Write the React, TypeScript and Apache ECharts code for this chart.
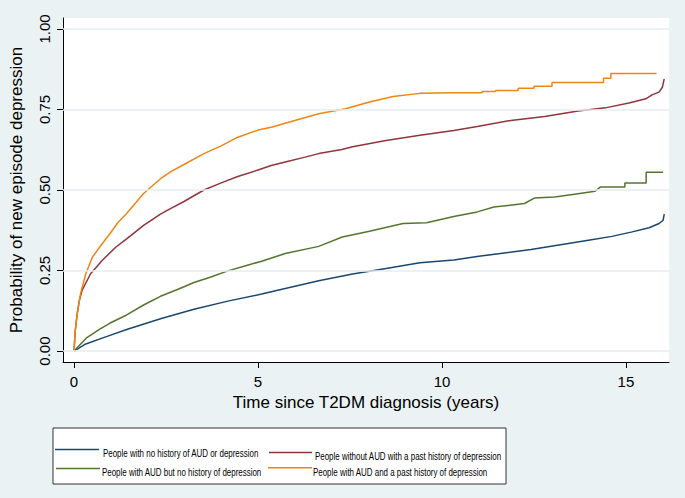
import React, { useEffect, useRef } from "react";
import * as echarts from "echarts";

const NAME_BLUE = "People with no history of AUD or depression";
const NAME_MAROON = "People without AUD with a past history of depression";
const NAME_GREEN = "People with AUD but no history of depression";
const NAME_ORANGE = "People with AUD and a past history of depression";

const COLOR_BLUE = "#1a476f";
const COLOR_MAROON = "#90353b";
const COLOR_GREEN = "#55752f";
const COLOR_ORANGE = "#ec8614";

const blueT = [0, 0.32, 0.86, 1.43, 2.35, 3.26, 4.18, 5.1, 5.74, 6.65, 7.57, 8.48, 9.4, 10.32, 11.0, 12.42, 13.98, 14.62, 15.17, 15.63, 15.9, 16.01, 16.04];
const blueP = [0, 0.022, 0.044, 0.067, 0.1, 0.13, 0.155, 0.177, 0.194, 0.218, 0.239, 0.256, 0.274, 0.283, 0.294, 0.315, 0.344, 0.356, 0.37, 0.383, 0.396, 0.406, 0.425];

const maroonT = [0, 0.03, 0.08, 0.14, 0.22, 0.45, 0.77, 1.14, 1.43, 1.89, 2.35, 2.62, 3.0, 3.53, 4.0, 4.45, 5.0, 5.36, 5.74, 6.28, 6.65, 7.28, 7.57, 8.48, 9.4, 10.32, 10.96, 11.87, 12.79, 13.7, 14.44, 15.08, 15.54, 15.72, 15.9, 15.99, 16.04];
const maroonP = [0, 0.06, 0.11, 0.155, 0.189, 0.24, 0.282, 0.323, 0.348, 0.39, 0.425, 0.442, 0.465, 0.5, 0.522, 0.542, 0.562, 0.576, 0.587, 0.602, 0.613, 0.626, 0.634, 0.654, 0.67, 0.685, 0.697, 0.716, 0.728, 0.745, 0.755, 0.77, 0.783, 0.796, 0.804, 0.819, 0.845];

const greenT = [0, 0.33, 0.7, 0.98, 1.43, 1.89, 2.35, 2.81, 3.26, 3.72, 4.18, 4.64, 5.1, 5.74, 6.65, 7.29, 8.03, 8.94, 9.58, 10.32, 10.96, 11.41, 12.24, 12.51, 13.06, 13.6, 14.16, 14.3, 14.97, 14.97, 15.55, 15.55, 16.01];
const greenP = [0, 0.04, 0.068, 0.087, 0.112, 0.143, 0.17, 0.191, 0.213, 0.23, 0.249, 0.264, 0.279, 0.303, 0.325, 0.354, 0.372, 0.396, 0.398, 0.418, 0.432, 0.447, 0.458, 0.475, 0.478, 0.487, 0.496, 0.509, 0.509, 0.522, 0.522, 0.555, 0.555];

const orangeT = [0, 0.03, 0.09, 0.18, 0.32, 0.5, 0.77, 0.98, 1.2, 1.43, 1.89, 2.35, 2.62, 3.0, 3.53, 4.0, 4.45, 5.0, 5.36, 6.0, 6.65, 7.38, 8.03, 8.67, 9.4, 10.3, 11.09, 11.09, 11.46, 11.46, 12.07, 12.07, 12.5, 12.5, 12.99, 12.99, 14.39, 14.39, 14.59, 14.59, 15.83];
const orangeP = [0, 0.06, 0.12, 0.18, 0.24, 0.292, 0.334, 0.365, 0.4, 0.427, 0.489, 0.535, 0.556, 0.58, 0.613, 0.637, 0.664, 0.686, 0.695, 0.716, 0.737, 0.752, 0.773, 0.79, 0.8, 0.802, 0.802, 0.806, 0.806, 0.809, 0.809, 0.816, 0.816, 0.822, 0.822, 0.834, 0.834, 0.847, 0.847, 0.862, 0.862];

const xTicks = [0, 5, 10, 15];
const yTicks = [0, 0.25, 0.5, 0.75, 1];

const FONT = "'Liberation Sans', Arial, sans-serif";

const zip = (t: number[], p: number[]) => t.map((v, i) => [v, p[i]]);

// legend layout: [name, color, lineX1, lineX2, lineY, textX, textY]
const legendItems: [string, string, number, number, number, number, number][] = [
  [NAME_BLUE, COLOR_BLUE, 55, 99, 449.5, 103, 453.5],
  [NAME_MAROON, COLOR_MAROON, 269, 312, 452.5, 315, 456.5],
  [NAME_GREEN, COLOR_GREEN, 56, 100, 468.5, 102, 472.5],
  [NAME_ORANGE, COLOR_ORANGE, 268, 312, 467.8, 313, 472.2],
];

export default function App() {
  const ref = useRef<HTMLDivElement>(null);
  useEffect(() => {
    if (!ref.current) return;
    const chart = echarts.init(ref.current, null, { renderer: "svg" });
    const lineSeries = (name: string, color: string, t: number[], p: number[]) => ({
      name,
      type: "line",
      data: zip(t, p),
      showSymbol: false,
      symbol: "none",
      color,
      lineStyle: { color, width: 1.5 },
      itemStyle: { color },
      z: 3,
    });
    const legendGraphics: any[] = [
      {
        type: "rect",
        x: 53,
        y: 428,
        z: 1,
        shape: { x: 0, y: 0, width: 453, height: 56 },
        style: { fill: "#ffffff", stroke: "#333333", lineWidth: 1 },
      },
    ];
    legendItems.forEach(([name, color, x1, x2, ly, tx, ty]) => {
      legendGraphics.push({
        type: "line",
        z: 2,
        shape: { x1, y1: ly, x2, y2: ly },
        style: { stroke: color, lineWidth: 1.6 },
      });
      legendGraphics.push({
        type: "text",
        z: 2,
        x: tx,
        y: ty,
        scaleX: 0.78,
        style: {
          text: name,
          x: 0,
          y: 0,
          fill: "#000",
          fontSize: 10.2,
          fontFamily: FONT,
          textAlign: "left",
          textVerticalAlign: "middle",
        },
      });
    });
    chart.setOption({
      animation: false,
      backgroundColor: "#eaf2f3",
      textStyle: { fontFamily: FONT },
      grid: { left: 63, right: 16, top: 18, bottom: 136, show: true, backgroundColor: "#ffffff", borderWidth: 0 },
      xAxis: {
        type: "value",
        min: -0.3,
        max: 16.17,
        name: "Time since T2DM diagnosis (years)",
        nameLocation: "middle",
        nameGap: 22,
        nameTextStyle: { fontSize: 17, color: "#000", fontFamily: FONT },
        axisLine: { show: true, onZero: false, lineStyle: { color: "#000", width: 1 } },
        axisTick: { show: true, customValues: xTicks, length: 6, lineStyle: { color: "#000" } },
        axisLabel: { customValues: xTicks, fontSize: 15, color: "#000", margin: 12, fontFamily: FONT },
        splitLine: { show: false },
      },
      yAxis: {
        type: "value",
        min: -0.034,
        max: 1.034,
        name: "Probability of new episode depression",
        nameLocation: "middle",
        nameGap: 38,
        nameTextStyle: { fontSize: 17, color: "#000", fontFamily: FONT },
        axisLine: { show: true, onZero: false, lineStyle: { color: "#000", width: 1 } },
        axisTick: { show: true, customValues: yTicks, length: 6, lineStyle: { color: "#000" } },
        axisLabel: {
          customValues: yTicks,
          rotate: 90,
          fontSize: 15,
          color: "#000",
          margin: 11,
          fontFamily: FONT,
          formatter: (v: number) => v.toFixed(2),
        },
        splitLine: { show: false },
      },
      graphic: legendGraphics,
      series: [
        {
          name: "grid",
          type: "line",
          data: [[0, 0]],
          symbol: "none",
          lineStyle: { opacity: 0 },
          silent: true,
          z: 1,
          markLine: {
            silent: true,
            symbol: ["none", "none"],
            label: { show: false },
            lineStyle: { color: "#e6eef1", width: 1.5, type: "solid" },
            data: yTicks.map((v) => ({ yAxis: v })),
          },
        },
        lineSeries(NAME_BLUE, COLOR_BLUE, blueT, blueP),
        lineSeries(NAME_MAROON, COLOR_MAROON, maroonT, maroonP),
        lineSeries(NAME_GREEN, COLOR_GREEN, greenT, greenP),
        lineSeries(NAME_ORANGE, COLOR_ORANGE, orangeT, orangeP),
      ],
    });
    return () => chart.dispose();
  }, []);
  return <div ref={ref} style={{ position: "absolute", left: 0, top: 0, width: 685, height: 498 }} />;
}
